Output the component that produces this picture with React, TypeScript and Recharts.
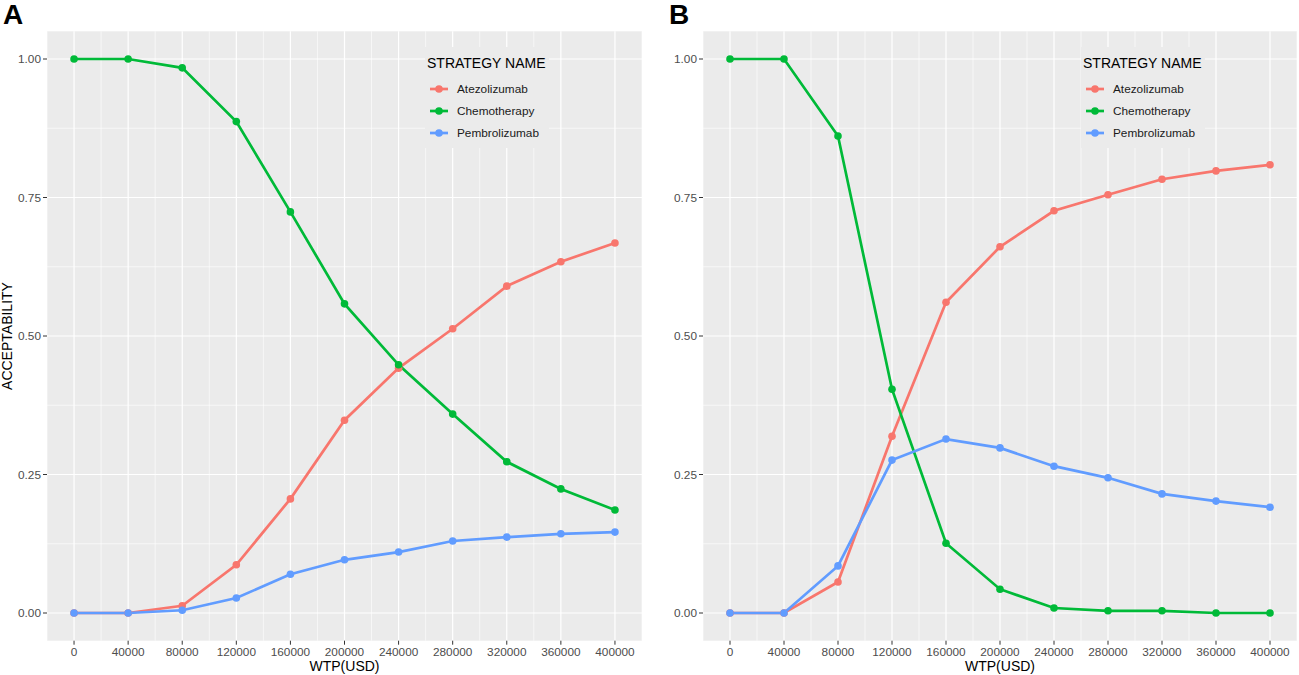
import React from "react";
import {
  CartesianGrid,
  Label,
  Legend,
  Line,
  LineChart,
  XAxis,
  YAxis,
} from "recharts";

const WTP = [0, 40000, 80000, 120000, 160000, 200000, 240000, 280000, 320000, 360000, 400000];
const X_TICKS = WTP;
const X_MINOR = [-20000, 20000, 60000, 100000, 140000, 180000, 220000, 260000, 300000, 340000, 380000, 420000];
const Y_TICKS = [0, 0.25, 0.5, 0.75, 1];
const Y_MINOR = [0.125, 0.375, 0.625, 0.875];

// panel A
const A_ATEZO = [0, 0, 0.013, 0.087, 0.206, 0.348, 0.442, 0.513, 0.59, 0.634, 0.668];
const A_CHEMO = [1, 1, 0.984, 0.887, 0.724, 0.558, 0.448, 0.359, 0.273, 0.224, 0.186];
const A_PEMBRO = [0, 0, 0.005, 0.027, 0.07, 0.096, 0.11, 0.13, 0.137, 0.143, 0.146];

// panel B
const B_ATEZO = [0, 0, 0.056, 0.319, 0.561, 0.661, 0.726, 0.755, 0.783, 0.798, 0.809];
const B_CHEMO = [1, 1, 0.861, 0.404, 0.126, 0.043, 0.009, 0.004, 0.004, 0, 0];
const B_PEMBRO = [0, 0, 0.085, 0.276, 0.314, 0.298, 0.265, 0.244, 0.215, 0.202, 0.191];

const SERIES = [
  { key: "atezo", name: "Atezolizumab", color: "#F8766D" },
  { key: "chemo", name: "Chemotherapy", color: "#00BA38" },
  { key: "pembro", name: "Pembrolizumab", color: "#619CFF" },
];

const PANEL_BG = "#EBEBEB";
const TICK_TEXT = "#4D4D4D";
const FONT = "'Liberation Sans', Arial, sans-serif";

function buildRows(atezo: number[], chemo: number[], pembro: number[]) {
  return WTP.map((w, i) => ({ wtp: w, atezo: atezo[i], chemo: chemo[i], pembro: pembro[i] }));
}

function StrategyLegend() {
  return (
    <div style={{ background: PANEL_BG, padding: "8px 3px 4px 2px", fontFamily: FONT }}>
      <div style={{ fontSize: 14, lineHeight: "17px", color: "#000", whiteSpace: "nowrap" }}>
        STRATEGY NAME
      </div>
      <div style={{ marginTop: 6 }}>
        {SERIES.map((s) => (
          <div key={s.key} style={{ display: "flex", alignItems: "center", height: 22 }}>
            <svg width={20} height={22} style={{ marginLeft: 2 }}>
              <line x1={1} y1={11} x2={19} y2={11} stroke={s.color} strokeWidth={2.7} />
              <circle cx={10} cy={11} r={3.8} fill={s.color} />
            </svg>
            <span style={{ marginLeft: 8, fontSize: 11.8, color: "#1a1a1a", whiteSpace: "nowrap" }}>
              {s.name}
            </span>
          </div>
        ))}
      </div>
    </div>
  );
}

interface PanelProps {
  rows: Array<{ wtp: number; atezo: number; chemo: number; pembro: number }>;
  width: number;
  rightMargin: number;
  yTitle?: boolean;
}

function Panel({ rows, width, rightMargin, yTitle }: PanelProps) {
  return (
    <LineChart
      width={width}
      height={675}
      data={rows}
      margin={{ top: 31.3, right: rightMargin, bottom: 0, left: 0 }}
      style={{ fontFamily: FONT }}
    >
      <CartesianGrid
        fill={PANEL_BG}
        stroke="#ffffff"
        strokeWidth={0.6}
        horizontalValues={Y_MINOR}
        verticalValues={X_MINOR}
      />
      <CartesianGrid
        stroke="#ffffff"
        strokeWidth={1.2}
        horizontalValues={Y_TICKS}
        verticalValues={X_TICKS}
      />
      <XAxis
        dataKey="wtp"
        type="number"
        domain={[-20000, 420000]}
        ticks={X_TICKS}
        allowDataOverflow
        height={34.3}
        axisLine={false}
        tickSize={4}
        tickMargin={3}
        tickLine={{ stroke: "#333333" }}
        tick={{ fill: TICK_TEXT, fontSize: 11.8 }}
      >
        <Label value="WTP(USD)" position="insideBottom" offset={4} fill="#000" fontSize={14} />
      </XAxis>
      <YAxis
        type="number"
        domain={[-0.05, 1.05]}
        ticks={Y_TICKS}
        allowDataOverflow
        width={47}
        axisLine={false}
        tickSize={4}
        tickMargin={2}
        tickLine={{ stroke: "#333333" }}
        tick={{ fill: TICK_TEXT, fontSize: 11.8 }}
        tickFormatter={(v: number) => v.toFixed(2)}
      >
        {yTitle && (
          <Label
            value="ACCEPTABILITY"
            angle={-90}
            position="insideLeft"
            offset={7}
            fill="#000"
            fontSize={14}
            style={{ textAnchor: "middle" }}
          />
        )}
      </YAxis>
      <Legend
        layout="vertical"
        align="center"
        verticalAlign="middle"
        wrapperStyle={{ left: 425, top: 47, width: "auto" }}
        content={() => <StrategyLegend />}
      />
      {SERIES.map((s) => (
        <Line
          key={s.key}
          type="linear"
          dataKey={s.key}
          name={s.name}
          stroke={s.color}
          strokeWidth={2.7}
          dot={{ r: 3.8, fill: s.color, stroke: s.color, strokeWidth: 0 }}
          activeDot={false}
          isAnimationActive={false}
        />
      ))}
    </LineChart>
  );
}

const panelLabel: React.CSSProperties = {
  position: "absolute",
  top: 1,
  fontFamily: FONT,
  fontWeight: "bold",
  fontSize: 28,
  lineHeight: 1,
  color: "#000",
};

export default function App() {
  return (
    <div style={{ position: "absolute", left: 0, top: 0, width: 1299, height: 675, background: "#fff" }}>
      <div style={{ position: "absolute", left: 0, top: 0 }}>
        <Panel rows={buildRows(A_ATEZO, A_CHEMO, A_PEMBRO)} width={650} rightMargin={8} yTitle />
      </div>
      <div style={{ position: "absolute", left: 656, top: 0 }}>
        <Panel rows={buildRows(B_ATEZO, B_CHEMO, B_PEMBRO)} width={643} rightMargin={2} />
      </div>
      <div style={{ ...panelLabel, left: 3 }}>A</div>
      <div style={{ ...panelLabel, left: 669 }}>B</div>
    </div>
  );
}
